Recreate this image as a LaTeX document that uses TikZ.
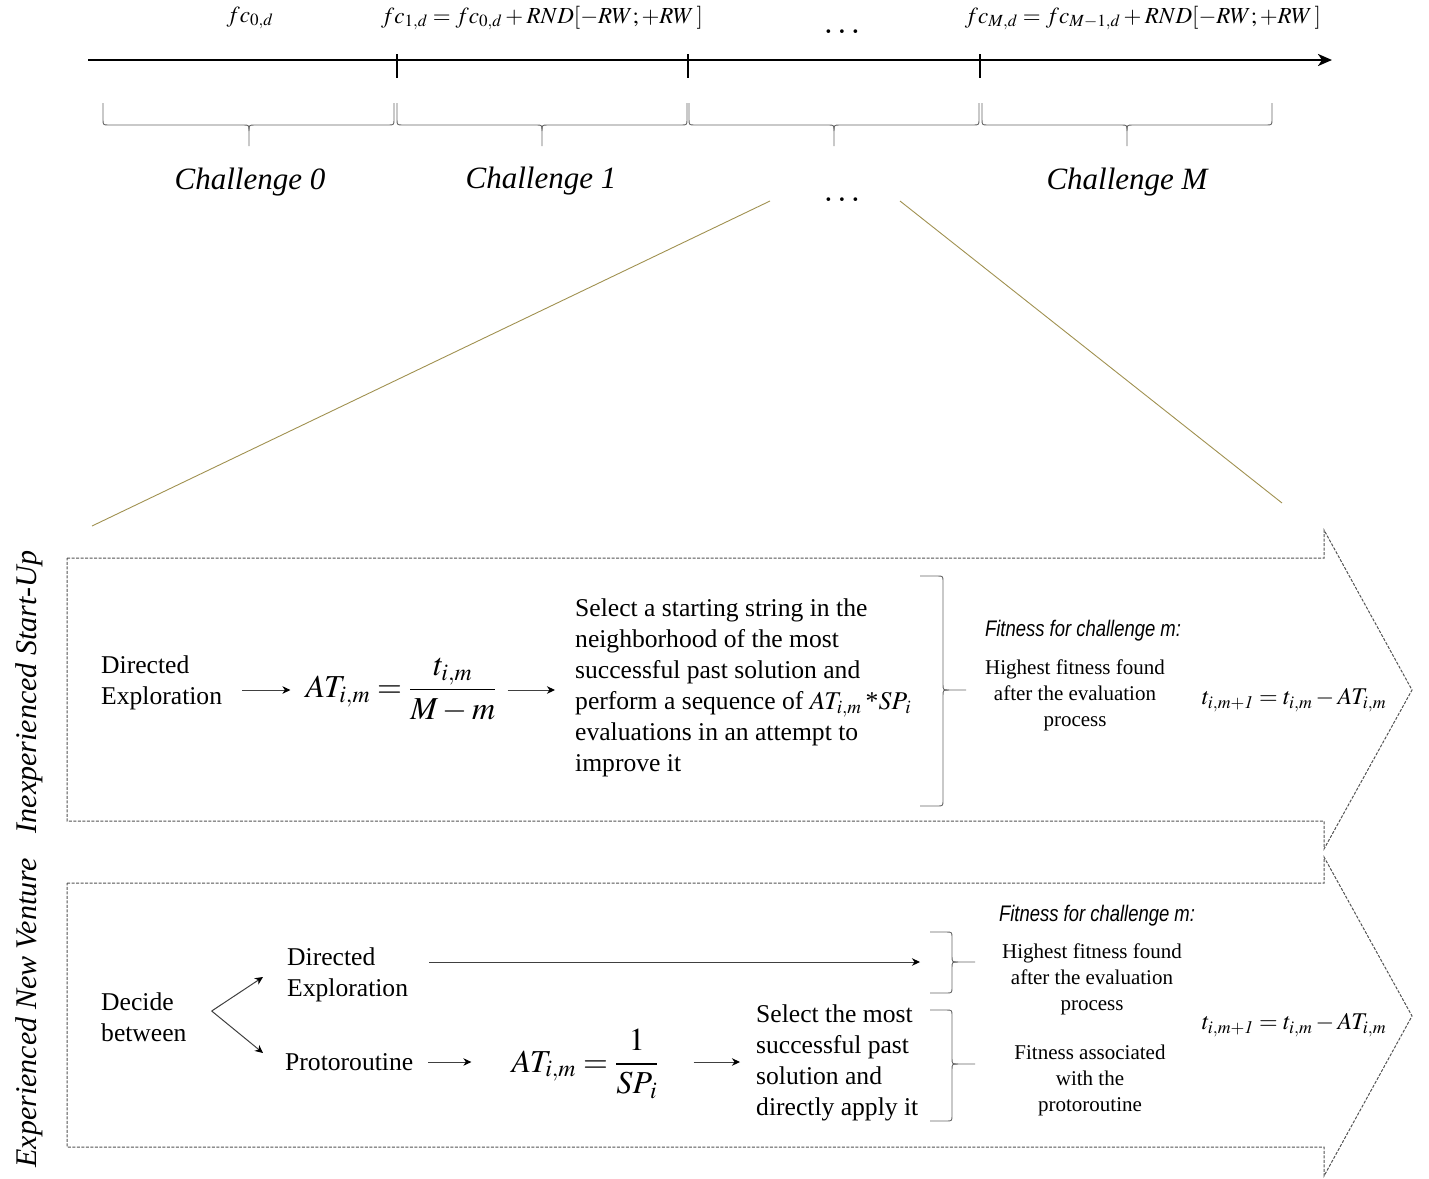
\documentclass[tikz,border=0pt]{standalone}
\usepackage{mathptmx}
\usepackage{fontspec}
\setmainfont{Liberation Serif}
\newfontfamily\narrowsans[FakeStretch=0.82]{Liberation Sans}
\usetikzlibrary{arrows.meta,calc}
\definecolor{khaki}{RGB}{160,145,80}
\newcommand\mydownbrace[3]{% x1, xm, x2 : ends top y=103, bar y=125, tip y=146
  \draw[bracestyle] (#3,103) -- (#3,119) .. controls (#3,125) .. ({#3-6},125) -- ({#2+6},125)
     .. controls (#2,125) .. (#2,131) -- (#2,146);
  \draw[bracestyle] (#1,103) -- (#1,119) .. controls (#1,125) .. ({#1+6},125) -- ({#2-6},125)
     .. controls (#2,125) .. (#2,131);
}
\newcommand\myrightbrace[6]{% x0, xb, xt, y1, ym, y2
  \draw[bracestyle] (#1,#4) -- ({#2-6},#4) .. controls (#2,#4) .. (#2,{#4+6}) -- (#2,{#5-6})
     .. controls (#2,#5) .. ({#2+6},#5) -- (#3,#5);
  \draw[bracestyle] (#1,#6) -- ({#2-6},#6) .. controls (#2,#6) .. (#2,{#6-6}) -- (#2,{#5+6})
     .. controls (#2,#5) .. ({#2+6},#5);
}
\begin{document}
\begin{tikzpicture}[x=1pt,y=-1pt,
  bodytext/.style={font=\fontsize{25.6}{31}\selectfont, inner sep=0pt, align=left},
  smalltext/.style={font=\fontsize{21}{26}\selectfont, inner sep=0pt, align=center},
  fitlabel/.style={font=\narrowsans\itshape\fontsize{22.5}{26}\selectfont, inner sep=0pt},
  bigmath/.style={font=\fontsize{32}{38}\selectfont, inner sep=0pt},
  midmath/.style={font=\fontsize{24}{28}\selectfont, inner sep=0pt},
  topmath/.style={font=\fontsize{23}{28}\selectfont, inner sep=0pt},
  chal/.style={font=\fontsize{31}{36}\selectfont\itshape, inner sep=0pt},
  sidelabel/.style={font=\fontsize{30}{36}\selectfont\itshape, inner sep=0pt, rotate=90},
  dotlabel/.style={font=\fontsize{35}{35}\selectfont, inner sep=0pt},
  arrowshape/.style={draw=gray!65!black, line width=1pt, dash pattern=on 3pt off 1.5pt},
  bracestyle/.style={draw=gray!80!black, line width=0.9pt},
  conn/.style={draw=gray!50!black, line width=1pt, -{Stealth[length=8pt,width=7.5pt,inset=2.5pt,color=black]}},
  olivestyle/.style={draw=khaki, line width=0.9pt},
]
\useasboundingbox (0,0) rectangle (1429,1178);

% ---------- timeline ----------
\coordinate (tlS) at (88,60);
\coordinate (tlE) at (1332,60);
\draw[line width=2.6pt, -{Stealth[length=14pt,width=12pt,inset=4pt]}] (tlS) -- (tlE);
\foreach \x in {397,688,980} \draw[line width=2.6pt] (\x,54) -- (\x,78);

\mydownbrace{103}{249}{394}
\mydownbrace{397}{542}{687}
\mydownbrace{689}{834}{979}
\mydownbrace{982}{1127}{1272}

\node[topmath] (fc0) at (250,18) {$fc_{0,d}$};
\node[topmath] (fc1) at (542,18) {$fc_{1,d} = fc_{0,d} + RND[-RW;+RW\,]$};
\node[dotlabel] (dots1) at (842,32) {$\ldots$};
\node[topmath] (fcM) at (1143,18) {$fc_{M,d} = fc_{M-1,d} + RND[-RW;+RW\,]$};

\node[chal] (ch0) at (250,182) {Challenge 0};
\node[chal] (ch1) at (541,181) {Challenge 1};
\node[dotlabel] (dots2) at (842,200) {$\ldots$};
\node[chal] (chM) at (1127,182) {Challenge M};

% zoom lines
\coordinate (zl1) at (770,201);
\coordinate (zl2) at (92,526);
\coordinate (zr1) at (900,201);
\coordinate (zr2) at (1282,503);
\draw[olivestyle] (zl1) -- (zl2);
\draw[olivestyle] (zr1) -- (zr2);

% ---------- arrow shapes ----------
\draw[arrowshape] (67,558) -- (1324,558) -- (1324,530) -- (1412,690) -- (1324,849) -- (1324,821) -- (67,821) -- cycle;
\draw[arrowshape] (67,883) -- (1324,883) -- (1324,857) -- (1412,1016) -- (1324,1176) -- (1324,1147) -- (67,1147) -- cycle;

\node[sidelabel] (lab1) at (29,692) {Inexperienced Start-Up};
\node[sidelabel] (lab2) at (29,1013) {Experienced New Venture};

% ---------- inexperienced start-up ----------
\node[bodytext, anchor=west] (de1) at (101,683) {Directed\\Exploration};
\node[bigmath] (f1) at (401,690) {$\displaystyle AT_{i,m} = \frac{t_{i,m}}{M-m}$};
\node[bodytext, anchor=west] (sel1) at (575,688) {Select a starting string in the\\neighborhood of the most\\successful past solution and\\perform a sequence of $AT_{i,m}$\,*$SP_{\kern1.5pt i}$\\evaluations in an attempt to\\improve it};
\draw[conn] ($(de1.east |- f1.center)+(20,0)$) -- ($(f1.west)+(-15,0)$);
\draw[conn] ($(f1.east)+(11,0)$) -- ($(sel1.west |- f1.center)+(-20,0)$);

\myrightbrace{920}{943}{966}{576}{690}{806}
\node[fitlabel] (fl1) at (1083,631) {Fitness for challenge m:};
\node[smalltext] (hf1) at (1075,695) {Highest fitness found\\after the evaluation\\process};
\node[midmath] (tf1) at (1294,700) {$t_{i,m+\mathit{1}} = t_{i,m} - AT_{i,m}$};

% ---------- experienced new venture ----------
\node[bodytext, anchor=west] (dec) at (101,1017) {Decide\\between};
\node[bodytext, anchor=west] (de2) at (287,975) {Directed\\Exploration};
\node[bodytext, anchor=west] (proto) at (285,1062) {Protoroutine};
\coordinate (split) at ($(dec.east)+(25,-6)$);
\draw[conn] (split) -- ($(de2.west)+(-24,2)$);
\draw[conn] (split) -- ($(proto.west)+(-22,-9)$);

\coordinate (b2tip) at (975,962);
\draw[conn] ($(de2.east |- b2tip)+(21,0)$) -- ($(b2tip)+(-55,0)$);

\node[bigmath] (f2) at (585,1064) {$\displaystyle AT_{i,m} = \frac{1}{SP_{\kern2pt i}}$};
\draw[conn] ($(proto.east)+(15,0)$) -- ($(f2.west |- proto.east)+(-40,0)$);
\node[bodytext, anchor=west] (sel2) at (756,1063) {Select the most\\successful past\\solution and\\directly apply it};
\draw[conn] ($(f2.east |- proto.east)+(35,0)$) -- ($(sel2.west |- proto.east)+(-16,0)$);

\myrightbrace{930}{952}{975}{932}{962}{993}
\myrightbrace{930}{952}{975}{1010}{1064}{1121}

\node[fitlabel] (fl2) at (1097,916) {Fitness for challenge m:};
\node[smalltext] (hf2) at (1092,979) {Highest fitness found\\after the evaluation\\process};
\node[smalltext] (fa2) at (1090,1080) {Fitness associated\\with the\\protoroutine};
\node[midmath] (tf2) at (1294,1025) {$t_{i,m+\mathit{1}} = t_{i,m} - AT_{i,m}$};
\end{tikzpicture}
\end{document}
